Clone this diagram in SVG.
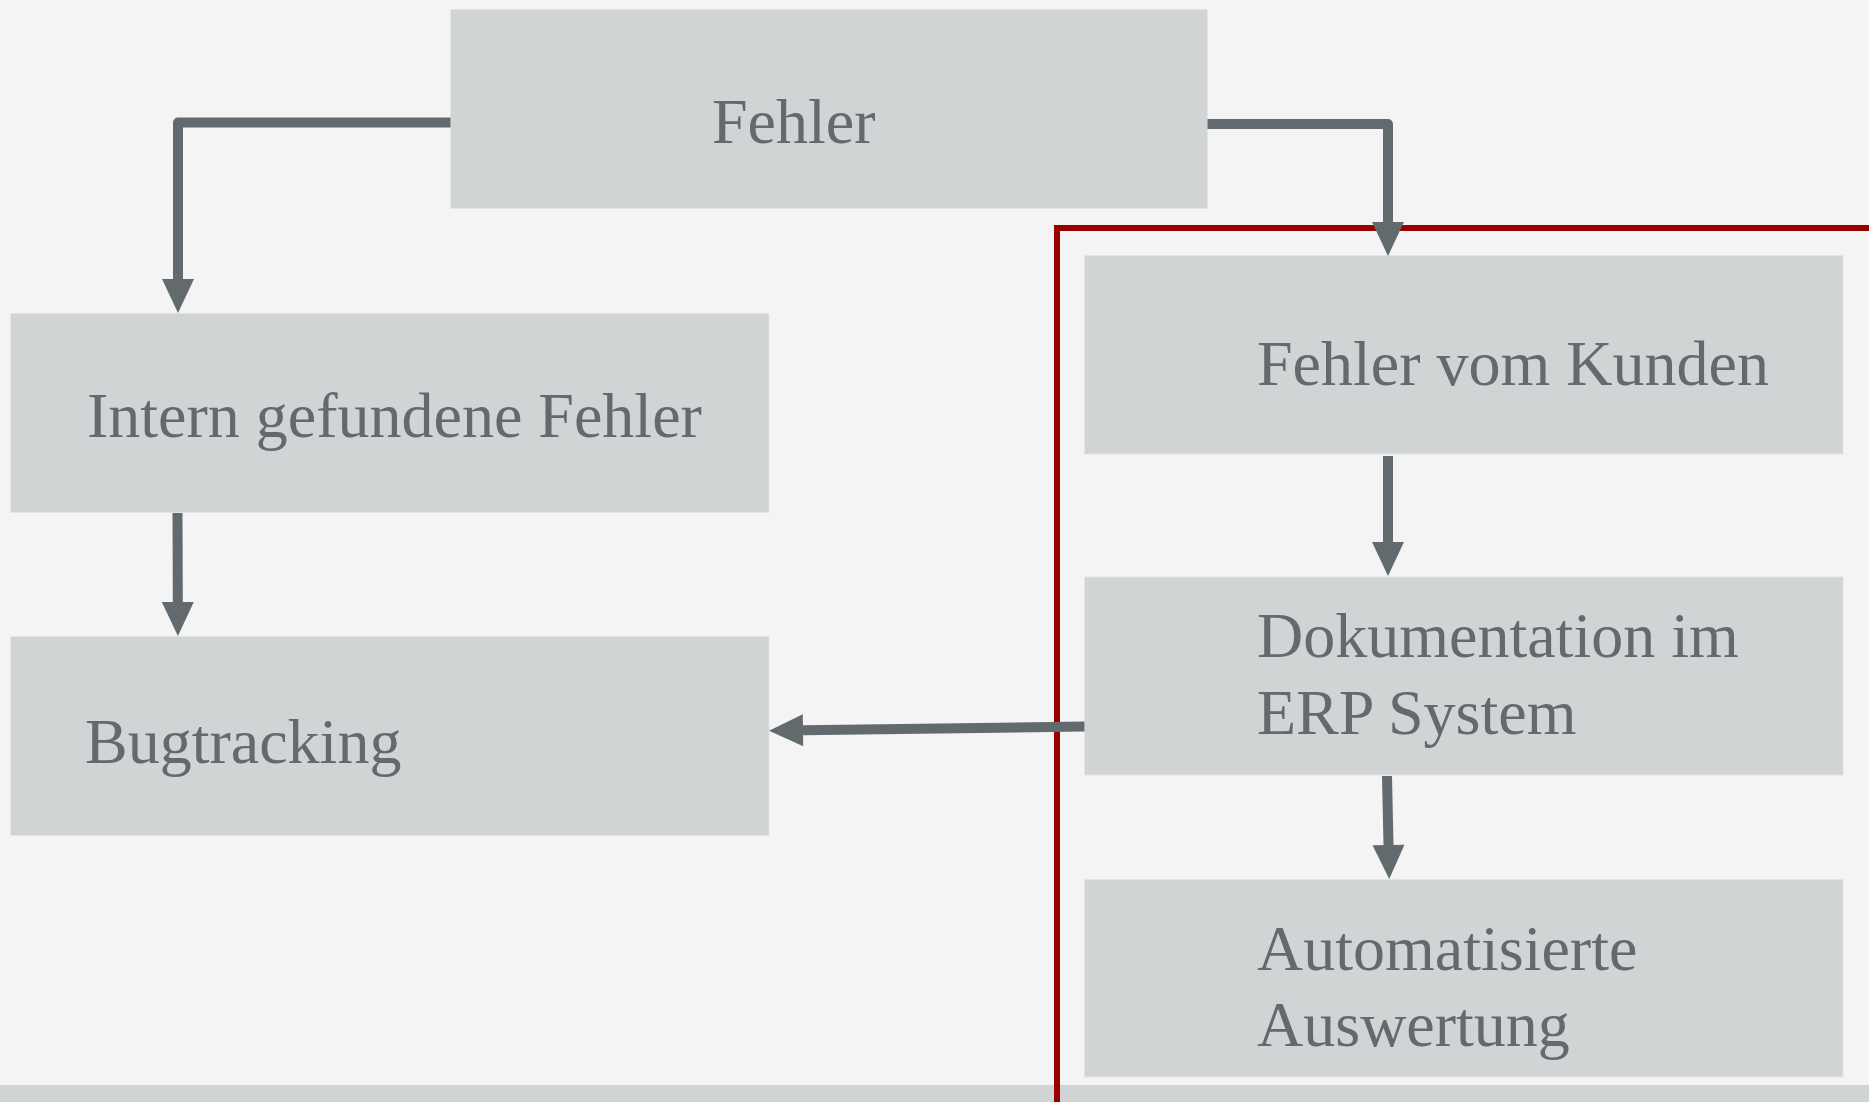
<svg xmlns="http://www.w3.org/2000/svg" width="1869" height="1102" viewBox="0 0 1869 1102">
<style>
.box{fill:#d0d4d5;stroke:#e2e4e5;stroke-width:1}
.lbl{font-family:"Liberation Serif","Times New Roman",serif;font-size:64px;fill:#636a6d}
.con{fill:none;stroke:#636a6d;stroke-width:10;stroke-linejoin:round}
</style>
<defs>
<marker id="arr" markerUnits="userSpaceOnUse" markerWidth="34" markerHeight="32" refX="0" refY="16" orient="auto" overflow="visible">
<path d="M0,0 L34,16 L0,32 z" fill="#636a6d"/>
</marker>
</defs>
<rect x="0" y="0" width="1869" height="1102" fill="#f4f4f4"/>
<rect x="0" y="1085" width="1869" height="17" fill="#d0d4d5"/>
<g id="n-fehler"><rect class="box" x="450.5" y="9.5" width="757" height="199"/><text class="lbl" x="712" y="143">Fehler</text></g>
<g id="n-intern"><rect class="box" x="10.5" y="313.5" width="758.5" height="199"/><text class="lbl" x="87" y="437">Intern gefundene Fehler</text></g>
<g id="n-bug"><rect class="box" x="10.5" y="636.5" width="758.5" height="199"/><text class="lbl" x="85" y="763">Bugtracking</text></g>
<g id="n-kunde"><rect class="box" x="1084.5" y="255.5" width="758.5" height="198.5"/><text class="lbl" x="1257" y="385">Fehler vom Kunden</text></g>
<g id="n-doku"><rect class="box" x="1084.5" y="577" width="758.5" height="198"/><text class="lbl" x="1257" y="657">Dokumentation im</text><text class="lbl" x="1257" y="734">ERP System</text></g>
<g id="n-auto"><rect class="box" x="1084.5" y="879.5" width="758.5" height="197.5"/><text class="lbl" x="1257" y="970">Automatisierte</text><text class="lbl" x="1257" y="1046">Auswertung</text></g>
<g id="frame"><rect x="1057" y="228" width="1809.5" height="900" fill="none" stroke="#990000" stroke-width="6"/></g>
<g id="connectors">
<path class="con" d="M450.5,122.5 L178,122.5 L178,279" marker-end="url(#arr)"/>
<path class="con" d="M1207.5,124 L1388,124 L1388,222" marker-end="url(#arr)"/>
<path class="con" d="M1388,456 L1388,542" marker-end="url(#arr)"/>
<path class="con" d="M1387,776 L1388.5,845" marker-end="url(#arr)"/>
<path class="con" d="M177.5,513 L177.8,602" marker-end="url(#arr)"/>
<path class="con" d="M1084.5,726.5 L803,730.3" marker-end="url(#arr)"/>
</g>
</svg>
